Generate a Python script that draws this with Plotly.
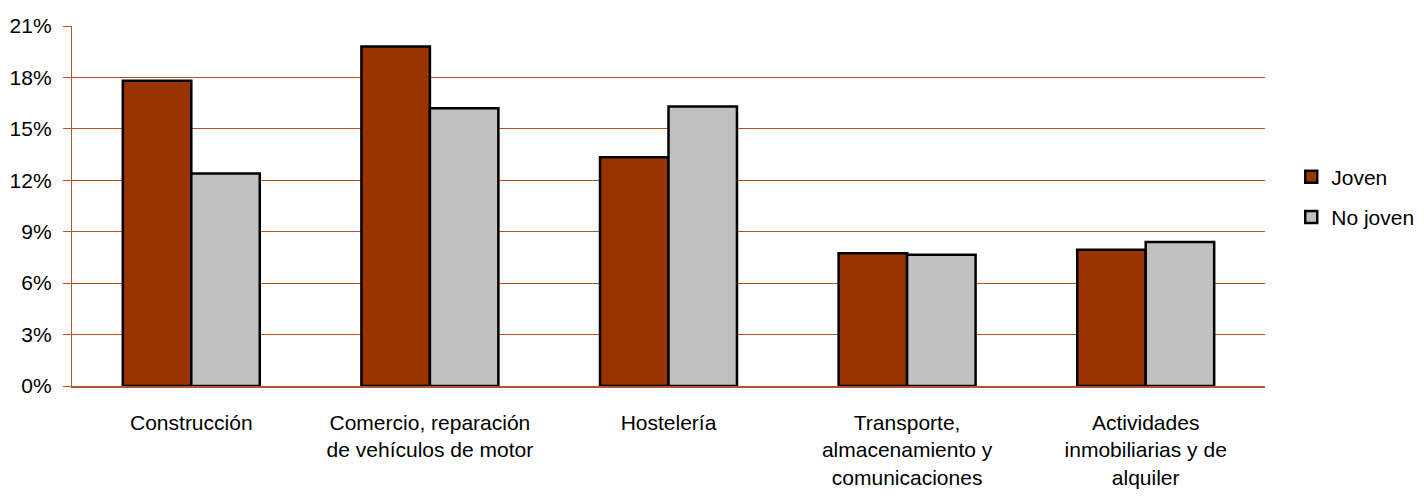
import plotly.graph_objects as go

categorias = [
    "Construcción",
    "Comercio, reparación<br>de vehículos de motor",
    "Hostelería",
    "Transporte,<br>almacenamiento y<br>comunicaciones",
    "Actividades<br>inmobiliarias y de<br>alquiler",
]
joven = [17.8, 19.8, 13.35, 7.75, 7.95]
no_joven = [12.4, 16.2, 16.3, 7.65, 8.4]
y_ticks = [0, 3, 6, 9, 12, 15, 18, 21]
y_labels = [f"{v}%" for v in y_ticks]

grid_color = "#b5542a"
fuente = "Liberation Sans, Arial"

fig = go.Figure()
fig.add_trace(go.Bar(x=categorias, y=joven, name="Joven", legendgroup="a",
                     marker=dict(color="#993300", line=dict(color="black", width=2.5))))
fig.add_trace(go.Bar(x=categorias, y=no_joven, name="No joven", legendgroup="b",
                     marker=dict(color="#c0c0c0", line=dict(color="black", width=2.5))))

# the page body adds 8px, so the figure is 8px smaller and margins shifted
fig.update_layout(
    width=1416, height=493,
    margin=dict(l=64, r=159, t=18, b=115, autoexpand=False),
    paper_bgcolor="white", plot_bgcolor="white",
    barmode="group", bargap=0.426, bargroupgap=0,
    font=dict(family=fuente, size=21, color="black"),
    showlegend=True,
    legend=dict(x=1.022, y=0.525, xanchor="left", yanchor="middle",
                font=dict(family=fuente, size=21),
                tracegroupgap=10, itemwidth=30),
    xaxis=dict(showgrid=False, showline=True, linecolor=grid_color, linewidth=1.5,
               ticks="", tickfont=dict(size=21), ticklabelstandoff=17, automargin=False),
    yaxis=dict(range=[0, 21], tickvals=y_ticks, ticktext=y_labels,
               showgrid=True, gridcolor=grid_color, gridwidth=1.3,
               showline=True, linecolor=grid_color, linewidth=1.3,
               ticks="outside", ticklen=8, tickcolor=grid_color,
               tickfont=dict(size=21), ticklabelstandoff=7, zeroline=False,
               automargin=False),
)

fig.write_html("out.html")
